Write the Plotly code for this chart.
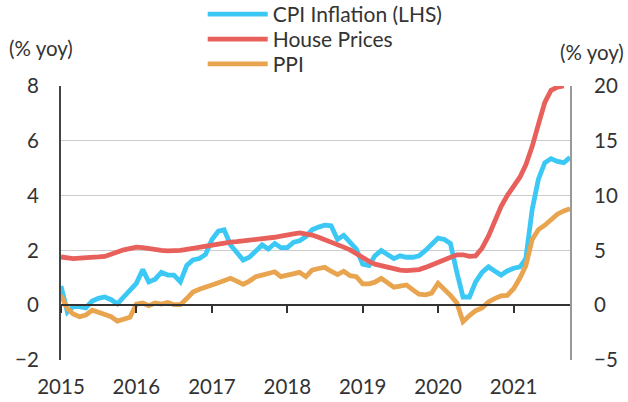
import pandas as pd
import plotly.graph_objects as go

# ---- data ----
months = pd.date_range("2015-01-01", periods=82, freq="MS")

cpi = [0.7, -0.25, -0.05, -0.05, -0.1, 0.15, 0.25, 0.3, 0.2, 0.05, 0.3, 0.55,
       0.8, 1.3, 0.85, 0.95, 1.2, 1.1, 1.1, 0.85, 1.45, 1.65, 1.7, 1.85,
       2.4, 2.7, 2.75, 2.2, 1.9, 1.65, 1.75, 1.95, 2.2, 2.05, 2.25, 2.1,
       2.1, 2.3, 2.35, 2.5, 2.75, 2.85, 2.92, 2.9, 2.4, 2.55, 2.3, 2.05,
       1.5, 1.45, 1.8, 2.0, 1.85, 1.7, 1.8, 1.75, 1.75, 1.8, 2.0, 2.25,
       2.45, 2.4, 2.25, 1.2, 0.3, 0.3, 0.85, 1.2, 1.4, 1.25, 1.1, 1.25,
       1.35, 1.4, 1.7, 3.5, 4.6, 5.2, 5.35, 5.25, 5.2, 5.4]

house = [4.4, 4.3, 4.25, 4.3, 4.3, 4.35, 4.4, 4.45, 4.6, 4.85, 5.05, 5.2,
         5.3, 5.25, 5.15, 5.05, 5.0, 4.95, 4.95, 5.0, 5.1, 5.2, 5.3, 5.45,
         5.55, 5.65, 5.7, 5.75, 5.8, 5.85, 5.9, 5.95, 6.05, 6.15, 6.2, 6.3,
         6.35, 6.5, 6.6, 6.55, 6.4, 6.2, 6.0, 5.75, 5.5, 5.3, 5.05, 4.7,
         4.3, 4.0, 3.75, 3.6, 3.45, 3.3, 3.2, 3.15, 3.2, 3.25, 3.45, 3.7,
         3.95, 4.2, 4.45, 4.6, 4.6, 4.45, 4.5, 5.2, 6.3, 7.7, 9.0, 10.0,
         10.9, 11.7, 12.8, 14.5, 16.5, 18.5, 19.6, 19.9, 20.0, None]

ppi = [0.9, -0.3, -0.8, -1.05, -0.9, -0.45, -0.65, -0.85, -1.05, -1.45, -1.3, -1.1,
       0.1, 0.2, -0.05, 0.2, 0.1, 0.25, 0.05, 0.05, 0.6, 1.2, 1.45, 1.7,
       1.85, 2.05, 2.25, 2.45, 2.2, 1.9, 2.2, 2.6, 2.75, 2.9, 3.05, 2.6,
       2.7, 2.85, 3.0, 2.6, 3.2, 3.35, 3.45, 3.1, 2.8, 3.1, 2.7, 2.6,
       1.95, 1.95, 2.1, 2.45, 2.0, 1.65, 1.75, 1.85, 1.4, 1.0, 0.95, 1.1,
       2.0, 1.5, 0.9, 0.2, -1.5, -0.95, -0.5, -0.25, 0.3, 0.6, 0.85, 0.9,
       1.5, 2.5, 3.6, 6.0, 6.9, 7.3, 7.8, 8.3, 8.6, 8.8]

series_names = ["CPI Inflation (LHS)", "House Prices", "PPI"]
colors = ["#3CC8F5", "#E8605B", "#E8A44E"]
left_ticks = [-2, 0, 2, 4, 6, 8]
right_ticks = [-5, 0, 5, 10, 15, 20]
year_ticks = pd.date_range("2015-01-01", "2021-01-01", freq="YS")
year_labels = [str(d.year) for d in year_ticks]
unit_label = "(% yoy)"

FONT = "Lato"
TXT = "#333333"
FS = 20.5
LFS = 21
x_range = [months[0], months[-1]]

fig = go.Figure()
fig.add_trace(go.Scatter(x=months, y=cpi, name=series_names[0], mode="lines",
                         line=dict(color=colors[0], width=4.8), yaxis="y", legend="legend"))
fig.add_trace(go.Scatter(x=months, y=house, name=series_names[1], mode="lines",
                         line=dict(color=colors[1], width=4.8), yaxis="y2", legend="legend2"))
fig.add_trace(go.Scatter(x=months, y=ppi, name=series_names[2], mode="lines",
                         line=dict(color=colors[2], width=4.8), yaxis="y2", legend="legend3"))

def leg(ypx):
    return dict(x=0.2784, xanchor="left", y=(360 - ypx) / 274, yanchor="middle",
                orientation="v", bgcolor="rgba(0,0,0,0)",
                font=dict(family=FONT, size=LFS, color=TXT), itemwidth=60)

fig.update_layout(
    width=628, height=402,
    margin=dict(l=61, r=58, t=86, b=42, autoexpand=False),
    paper_bgcolor="white", plot_bgcolor="white",
    font=dict(family=FONT, size=FS, color=TXT),
    showlegend=True,
    legend=leg(14.5), legend2=leg(39.5), legend3=leg(64.2),
    xaxis=dict(type="date", range=x_range, tickvals=year_ticks, ticktext=year_labels,
               showgrid=False, showline=False, zeroline=False,
               ticks="outside", ticklen=8, tickcolor="rgba(0,0,0,0)"),
    xaxis2=dict(type="date", range=x_range, overlaying="x", anchor="free", position=0.2,
                side="bottom", tickvals=year_ticks, showticklabels=False,
                showgrid=False, showline=True, linecolor="#333333", linewidth=1.5,
                ticks="outside", ticklen=7, tickcolor="#333333", tickwidth=1.5,
                zeroline=False),
    yaxis=dict(range=[-2, 8], tickvals=left_ticks, showgrid=True, gridcolor="#CCCCCC",
               gridwidth=1, zeroline=False, showline=True, linecolor="#444444", linewidth=2,
               ticks="outside", ticklen=16, tickcolor="rgba(0,0,0,0)"),
    yaxis2=dict(range=[-5, 20], tickvals=right_ticks, overlaying="y", side="right",
                showgrid=False, zeroline=False, showline=True, linecolor="#999999",
                linewidth=2, ticks="outside", ticklen=18, tickcolor="rgba(0,0,0,0)"),
    annotations=[
        dict(text=unit_label, xref="paper", yref="paper", x=-0.04, y=1.14,
             xanchor="center", yanchor="middle", showarrow=False,
             font=dict(family=FONT, size=FS, color=TXT)),
        dict(text=unit_label, xref="paper", yref="paper", x=1.043, y=1.125,
             xanchor="center", yanchor="middle", showarrow=False,
             font=dict(family=FONT, size=FS, color=TXT)),
    ],
)
# helper trace that only activates the zero-line axis (no visible marks)
fig.add_trace(go.Scatter(x=[months[0]], y=[None], xaxis="x2", yaxis="y",
                         showlegend=False, hoverinfo="skip"))

fig.write_html("out.html", config={"displayModeBar": False},
               post_script="document.body.style.margin='0px';document.body.style.overflow='hidden';")
